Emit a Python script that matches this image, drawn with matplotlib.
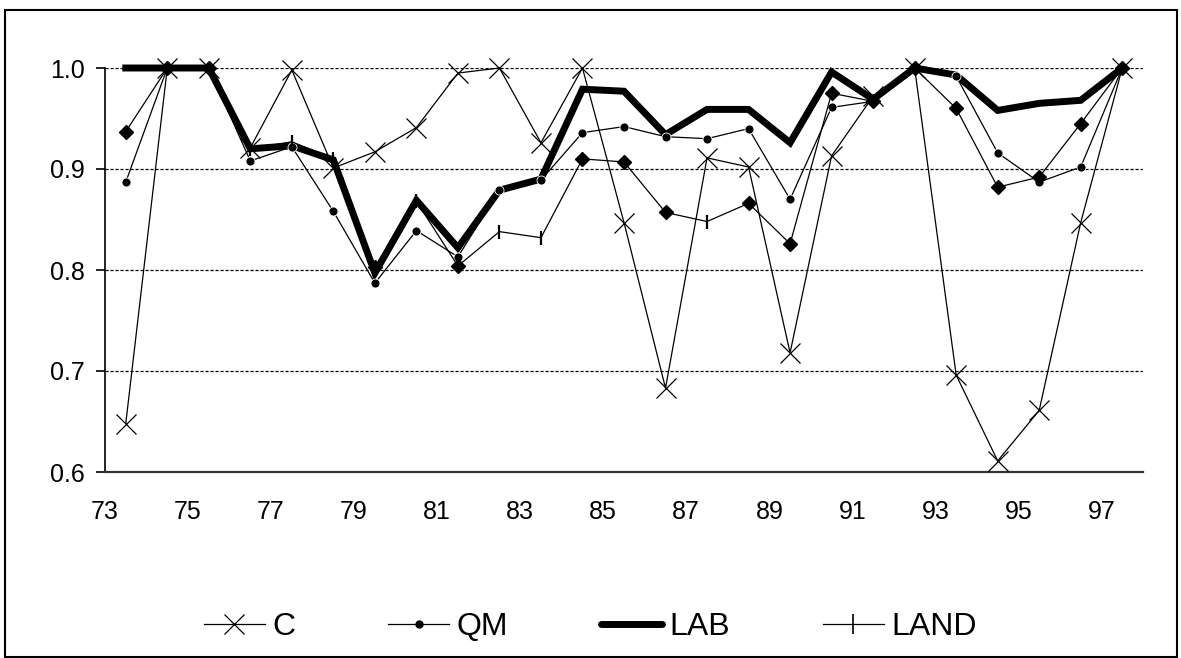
import numpy as np
import matplotlib.pyplot as plt
from matplotlib.patches import Rectangle
from matplotlib.lines import Line2D

plt.rcParams['font.family'] = ['Liberation Sans', 'DejaVu Sans']

# years 73..97, points sit in the middle of each year slot
years = np.arange(73, 98)
tick_years = np.arange(73, 98, 2)

c_vals = [0.648, 1.0, 1.0, 0.921, 0.998, 0.901, 0.917, 0.941, 0.995, 1.0, 0.926, 1.0, 0.847,
          0.683, 0.911, 0.902, 0.718, 0.913, 0.972, 1.0, 0.696, 0.611, 0.661, 0.847, 1.0]
qm_vals = [0.887, 1.0, 1.0, 0.908, 0.922, 0.858, 0.787, 0.839, 0.813, 0.879, 0.889, 0.936, 0.942,
           0.932, 0.930, 0.940, 0.870, 0.961, 0.967, 1.0, 0.992, 0.916, 0.887, 0.902, 1.0]
lab_vals = [1.0, 1.0, 1.0, 0.920, 0.923, 0.909, 0.797, 0.869, 0.822, 0.879, 0.890, 0.979, 0.977,
            0.934, 0.959, 0.959, 0.926, 0.996, 0.969, 1.0, 0.993, 0.958, 0.965, 0.968, 1.0]
land_vals = [0.937, 1.0, 1.0, 0.920, 0.927, 0.910, 0.803, 0.868, 0.804, 0.838, 0.832, 0.910, 0.907,
             0.857, 0.848, 0.866, 0.826, 0.975, 0.967, 1.0, 0.960, 0.882, 0.892, 0.945, 1.0]
# LAND points shown with a diamond instead of a tick
land_diamond = [1, 1, 1, 0, 0, 0, 1, 0, 1, 0, 0, 1, 1, 1, 0, 1, 1, 1, 1, 1, 1, 1, 1, 1, 1]

x = years + 0.5
land = np.array(land_vals)
dmask = np.array(land_diamond, dtype=bool)

fig = plt.figure(figsize=(11.81, 6.58), dpi=100)
ax = fig.add_axes([105 / 1181, 1 - 472 / 658, (1143 - 105) / 1181, (472 - 68) / 658])

for yv in [0.7, 0.8, 0.9, 1.0]:
    ax.axhline(yv, color='black', lw=0.9, ls=(0, (2.5, 1.5)), zorder=1)

ax.plot(x, c_vals, color='black', lw=0.9, marker='x', ms=15, mew=0.9,
        clip_on=False, zorder=3)
ax.plot(x, lab_vals, color='black', lw=5, solid_joinstyle='miter',
        clip_on=False, zorder=4)
ax.plot(x, qm_vals, color='black', lw=0.9, marker='o', ms=6.5, mec='white', mew=0.6,
        clip_on=False, zorder=5)
ax.plot(x, land, color='black', lw=0.9, clip_on=False, zorder=6)
ax.plot(x[~dmask], land[~dmask], ls='none', marker='|', ms=10, mew=1.6,
        color='black', clip_on=False, zorder=6)
ax.plot(x[dmask], land[dmask], ls='none', marker='D', ms=7.5, color='black',
        clip_on=False, zorder=6)

ax.set_xlim(73, 98)
ax.set_ylim(0.6, 1.0)
ax.set_xticks(tick_years)
ax.set_xticklabels([str(t) for t in tick_years])
ax.set_yticks([0.6, 0.7, 0.8, 0.9, 1.0])
ax.set_yticklabels(['0.6', '0.7', '0.8', '0.9', '1.0'])
ax.tick_params(axis='x', length=0, pad=20, labelsize=18)
ax.tick_params(axis='y', length=6.5, width=1.2, pad=8, labelsize=18)

ax.spines['top'].set_visible(False)
ax.spines['right'].set_visible(False)
ax.spines['left'].set_linewidth(1.2)
ax.spines['bottom'].set_linewidth(1.6)
ax.spines['bottom'].set_color('#333333')

# legend with the same handles as the chart
handles = [
    Line2D([], [], color='black', lw=0.9, marker='x', ms=15, mew=0.9),
    Line2D([], [], color='black', lw=0.9, marker='o', ms=5),
    Line2D([], [], color='black', lw=5, solid_capstyle='round'),
    Line2D([], [], color='black', lw=0.9, marker='|', ms=14, mew=1.2),
]
fig.legend(handles, ['C', 'QM', 'LAB', 'LAND'], loc='center', ncol=4,
           bbox_to_anchor=(0.5, 1 - 627 / 658), frameon=False, fontsize=23,
           handlelength=1.9, handletextpad=0.25, columnspacing=2.9, numpoints=1)

fig.patches.append(Rectangle((5 / 1181, 1 / 658), 1172 / 1181, 647 / 658,
                             transform=fig.transFigure, fill=False,
                             edgecolor='black', lw=1.5))

fig.savefig('out.png', dpi=100)
